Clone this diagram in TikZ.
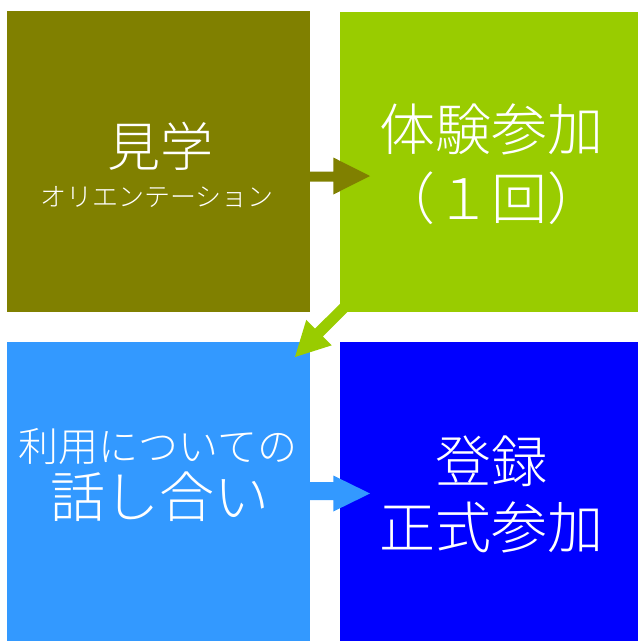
\documentclass[tikz,border=0pt]{standalone}
\usepackage{fontspec}
\setmainfont{Noto Sans CJK JP Light}
\definecolor{cOlive}{HTML}{808000}
\definecolor{cLime}{HTML}{99CC00}
\definecolor{cSky}{HTML}{3399FF}
\definecolor{cBlue}{HTML}{0000FF}
\begin{document}
\begin{tikzpicture}[x=1pt,y=-1pt,
  box/.style={draw=none,inner sep=0pt,outer sep=0pt,anchor=north west},
  lbl/.style={text=white,inner sep=0pt,anchor=base},
  fs/.style={font=\fontsize{#1}{#1}\selectfont}]
\useasboundingbox (0,0) rectangle (638,641);
% boxes
\node[box,fill=cOlive,minimum width=303pt,minimum height=301pt] (b1) at (7,11) {};
\node[box,fill=cLime,minimum width=298pt,minimum height=300pt] (b2) at (340,12) {};
\node[box,fill=cSky,minimum width=303pt,minimum height=299pt] (b3) at (7,342) {};
\node[box,fill=cBlue,minimum width=298pt,minimum height=299pt] (b4) at (340,342) {};
% arrows
\coordinate (a1s) at (300,176.5);
\coordinate (a1t) at (370,176);
\fill[cOlive] (a1s) ++(0,-5) -- (333.3,171.5) -- (333.3,157.5) -- (a1t) -- (333.3,194.5) -- (333.3,181.5) -- (300,181.5) -- cycle;
\coordinate (a2s) at (345.8,305.8);
\coordinate (a2t) at (295,357);
\fill[cLime] (341.9,301.9) -- (315.1,328.6) -- (306.3,319.8) -- (a2t) -- (331.8,345.3) -- (322.9,336.4) -- (349.7,309.7) -- cycle;
\coordinate (a3s) at (300,491);
\coordinate (a3t) at (370,493.5);
\fill[cSky] (300,482) -- (333.3,482) -- (333.3,475.5) -- (a3t) -- (333.3,511.5) -- (333.3,500) -- (300,500) -- cycle;
% texts
\node[lbl,fs=53] (t1) at (160,166.6) {見学};
\node[lbl,fs=26] (t2) at (157,206.6) {オリエンテーション};
\node[lbl,fs=56] (t3) at (491,150.7) {体験参加};
\node[lbl,fs=56] (t4) at (491,219.7) {（１回）};
\node[lbl,fs=40] (t5) at (158,461.8) {利用についての};
\node[lbl,fs=55] (t6) at (160,517) {話し合い};
\node[lbl,fs=56] (t7) at (491,482.7) {登録};
\node[lbl,fs=56] (t8) at (491,548.7) {正式参加};
\end{tikzpicture}
\end{document}
